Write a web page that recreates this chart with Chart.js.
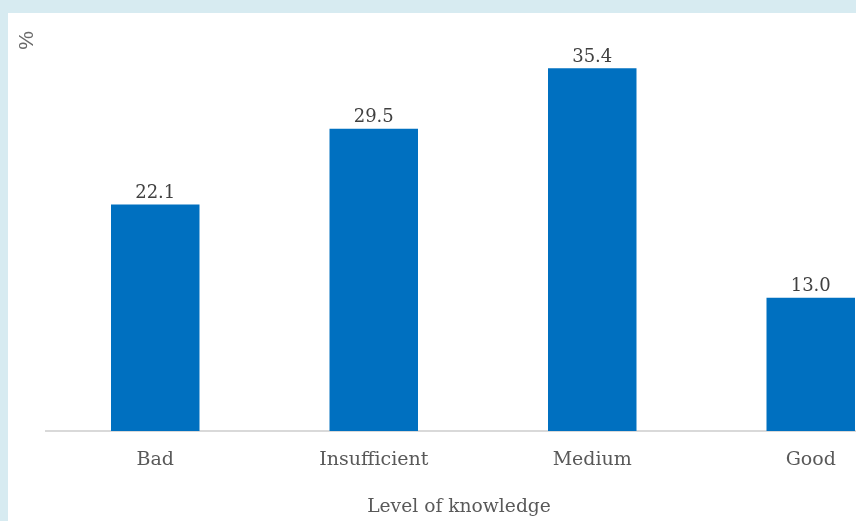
<!DOCTYPE html>
<html>
<head>
<meta charset="utf-8">
<script src="https://cdn.jsdelivr.net/npm/chart.js@4"></script>
<style>
  html, body { margin: 0; padding: 0; width: 856px; height: 521px; overflow: hidden; background: #d7ebf1; }
  #panel { position: absolute; left: 8px; top: 13px; width: 960px; height: 508px; background: #ffffff; }
  #wrap { position: absolute; left: 0; top: 0; width: 930px; height: 508px; }
</style>
</head>
<body>
<div id="panel"><div id="wrap"><canvas id="c"></canvas></div></div>
<script>
const categories = ['Bad', 'Insufficient', 'Medium', 'Good'];
const percentages = [22.1, 29.5, 35.4, 13.0];
const xAxisTitle = 'Level of knowledge';
const yAxisTitle = '%';

const serif = '"DejaVu Serif", "Liberation Serif", serif';

// Value labels above each bar, the rotated unit label at the top left,
// and the axis title centred under the whole figure
const labelPlugin = {
  id: 'barLabels',
  afterDatasetsDraw(chart) {
    const ctx = chart.ctx;
    const meta = chart.getDatasetMeta(0);
    ctx.save();
    ctx.fillStyle = '#404040';
    ctx.font = '18px ' + serif;
    ctx.textAlign = 'center';
    ctx.textBaseline = 'bottom';
    meta.data.forEach((bar, i) => {
      ctx.fillText(chart.data.datasets[0].data[i].toFixed(1), bar.x, bar.y - 2);
    });
    ctx.restore();

    ctx.save();
    ctx.fillStyle = '#6a6a6a';
    ctx.font = '21px "Liberation Sans", sans-serif';
    ctx.translate(chart.chartArea.left - 19, chart.chartArea.top + 19.5);
    ctx.rotate(-Math.PI / 2);
    ctx.textAlign = 'center';
    ctx.textBaseline = 'middle';
    ctx.fillText(yAxisTitle, 0, 0);
    ctx.restore();

    ctx.save();
    ctx.fillStyle = '#595959';
    ctx.font = '18.7px ' + serif;
    ctx.textAlign = 'center';
    ctx.textBaseline = 'middle';
    ctx.fillText(xAxisTitle, 451, chart.chartArea.bottom + 76);
    ctx.restore();
  }
};

new Chart(document.getElementById('c'), {
  type: 'bar',
  data: {
    labels: categories,
    datasets: [{
      data: percentages,
      backgroundColor: '#0070c0',
      borderWidth: 0,
      categoryPercentage: 1.0,
      barPercentage: 0.405
    }]
  },
  options: {
    responsive: true,
    maintainAspectRatio: false,
    animation: false,
    layout: { padding: { left: 38, right: 18, top: 8, bottom: 31.2 } },
    plugins: { legend: { display: false }, tooltip: { enabled: false } },
    scales: {
      x: {
        grid: { display: false, drawTicks: false },
        border: { display: true, color: '#d9d9d9', width: 2 },
        ticks: { color: '#595959', font: { family: serif, size: 19 }, padding: 18 },
        title: { display: false }
      },
      y: {
        display: false,
        min: 0, max: 40
      }
    }
  },
  plugins: [labelPlugin]
});
</script>
</body>
</html>
